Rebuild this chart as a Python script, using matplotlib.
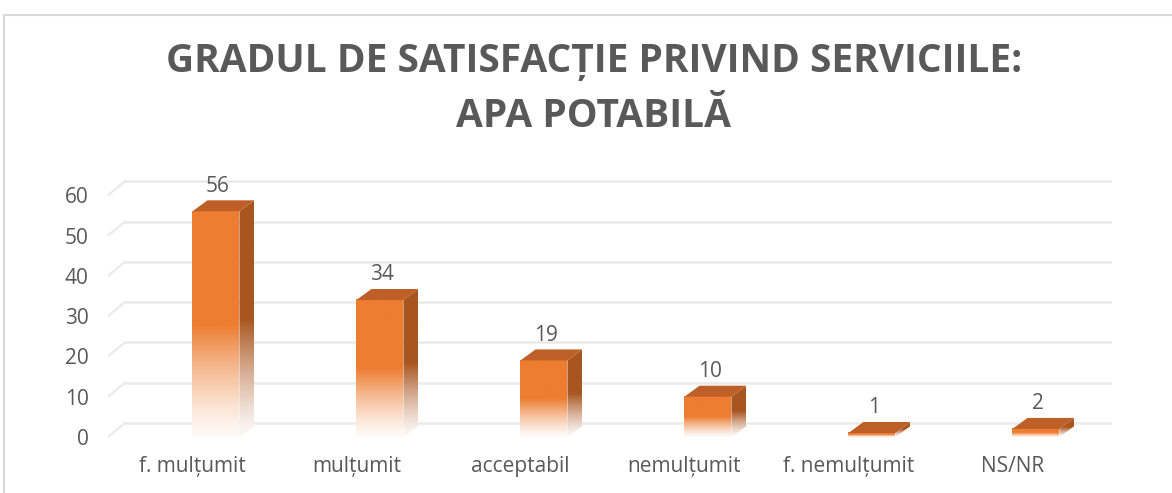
import matplotlib
matplotlib.use('Agg')
import matplotlib.pyplot as plt
import numpy as np
from matplotlib.patches import Polygon, Rectangle
from matplotlib.colors import to_rgb

# chart data
categories = ['f. mulțumit', 'mulțumit', 'acceptabil', 'nemulțumit', 'f. nemulțumit', 'NS/NR']
values = [56, 34, 19, 10, 1, 2]
yticks = [0, 10, 20, 30, 40, 50, 60]
title = 'GRADUL DE SATISFACȚIE PRIVIND SERVICIILE:\nAPA POTABILĂ'

plt.rcParams['font.family'] = ['Open Sans', 'DejaVu Sans']

textgray = '#595959'
gridgray = '#EAEAEA'
front = np.array(to_rgb('#ED7D31'))
side = np.array(to_rgb('#A9551F'))
top = '#BD5F27'
white = np.array([1.0, 1.0, 1.0])

fig = plt.figure(figsize=(11.72, 4.93), dpi=100)
fig.add_artist(Rectangle((4 / 1172, -0.1), 1.2, (493 - 15) / 493 + 0.1,
                         transform=fig.transFigure, fill=False,
                         edgecolor='#D9D9D9', linewidth=1.5))

ax = fig.add_axes([108 / 1172, (493 - 445.06) / 493, 1004 / 1172, 274.04 / 493])
xmin, xmax = -0.515, 5.607
ax.set_xlim(xmin, xmax)
ax.set_ylim(-2, 66)
for s in ax.spines.values():
    s.set_visible(False)

# back wall gridlines, with the little floor slant on the left
wdx, wdy = 17 / 164, 14 / 4.03
for t in yticks:
    ax.plot([xmin, xmin + wdx], [t, t + wdy], color=gridgray, lw=1.5, zorder=1)
    ax.plot([xmin + wdx, xmax], [t + wdy, t + wdy], color=gridgray, lw=1.8, zorder=1)

ax.set_yticks(yticks)
ax.set_yticklabels([str(t) for t in yticks])
ax.set_xticks(range(len(categories)))
ax.set_xticklabels(categories)
ax.tick_params(axis='y', length=0, pad=14, labelsize=15, labelcolor=textgray)
ax.tick_params(axis='x', length=0, pad=8, labelsize=15, labelcolor=textgray)


def fade(col, n=200):
    t = np.linspace(0, 1, n)
    a = np.clip(t / 0.5, 0, 1) ** 1.3
    a = 0.04 + 0.96 * a
    rows = white[None, :] * (1 - a[:, None]) + col[None, :] * a[:, None]
    return rows[::-1][:, None, :]


w = 47 / 164
dx, dy = 15 / 164, 11 / 4.03
for i, v in enumerate(values):
    x0, x1 = i, i + w
    ax.imshow(fade(front), extent=[x0, x1, 0, v], aspect='auto',
              interpolation='bilinear', zorder=3)
    sidepoly = Polygon([[x1, 0], [x1 + dx, dy], [x1 + dx, v + dy], [x1, v]],
                       closed=True, facecolor='none', edgecolor='none')
    ax.add_patch(sidepoly)
    im2 = ax.imshow(fade(side), extent=[x1, x1 + dx, 0, v + dy], aspect='auto',
                    interpolation='bilinear', zorder=3)
    im2.set_clip_path(sidepoly)
    ax.add_patch(Polygon([[x0, v], [x1, v], [x1 + dx, v + dy], [x0 + dx, v + dy]],
                         closed=True, facecolor=top, edgecolor='none', zorder=4))
    ax.annotate(str(v), (i + w / 2 + 0.012, v), xytext=(0, 18),
                textcoords='offset points', ha='center', va='center',
                fontsize=15, color=textgray, annotation_clip=False)

ax.set_xlim(xmin, xmax)
ax.set_ylim(-2, 66)

fig.text(594 / 1172, 1 - 89 / 493, title, ha='center', va='center',
         fontsize=28, fontweight='bold', color=textgray,
         linespacing=1.55)

fig.savefig('out.png', dpi=100)
